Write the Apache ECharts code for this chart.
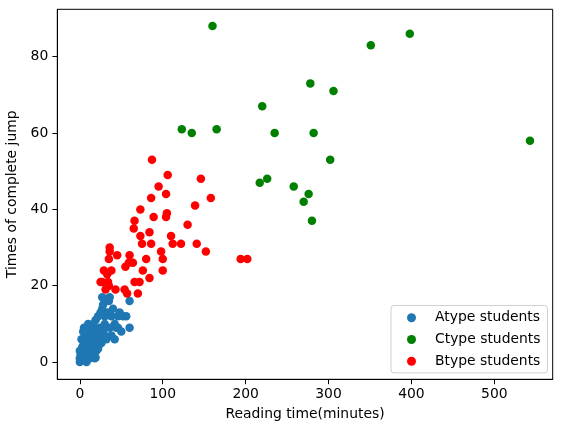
<!DOCTYPE html>
<html>
<head>
<meta charset="utf-8">
<script src="https://cdn.jsdelivr.net/npm/echarts@6/dist/echarts.min.js"></script>
<style>html,body{margin:0;padding:0;background:#fff;}#c{width:562px;height:432px;}</style>
</head>
<body>
<div id="c"></div>
<script>
const seriesNames = ['Atype students', 'Ctype students', 'Btype students'];
const xTicks = [0, 100, 200, 300, 400, 500];
const yTicks = [0, 20, 40, 60, 80];

const atype = [
  [0,0],[0,1],[1,2],[2,3],[3,4],[0,3],[5,5],[4,2],[6,1],[8,0],[10,1],[12,1],[15,2],[18,1],
  [20,3],[22,4],[6,6],[8,7],[10,5],[12,6],[14,4],[16,5],[18,6],[5,9],[8,9],[10,10],[13,9],
  [15,8],[16,10],[19,11],[22,12],[24,9],[26,7],[28,8],[30,7],[32,6],[20,8],[18,9],[25,13],
  [27,14],[28,15],[30,12],[35,16],[27,17],[36,17],[34,13],[38,12],[40,14],[42,10],[44,9],
  [46,12],[48,13],[52,12],[56,12],[60,16],[60,9],[46,9],[42,6],[50,8],[36,9],[24,5],[12,3],
  [2,6],[9,4],[4,8],[38,7],[30,10],[22,3.5],[14,3.6],[19,1.2],[26,5],[17,7]
];
const ctype = [
  [160,88],[351,83],[398,86],[278,73],[306,71],[220,67],[123,61],[135,60],[165,61],[235,60],
  [282,60],[543,58],[302,53],[217,47],[226,48],[258,46],[276,44],[270,42],[280,37]
];
const btype = [
  [87,53],[106,49],[146,48],[95,46],[104,44],[86,43],[158,43],[139,41],[73,40],[105,39],
  [104,38],[89,38],[66,37],[65,35],[130,36],[84,34],[73,33],[110,33],[75,31],[86,31],
  [112,31],[122,31],[141,31],[152,29],[98,29],[36,30],[36,29],[45,28],[60,28],[100,27],
  [80,27],[35,27],[64,26],[55,25],[76,24],[100,24],[29,24],[38,24],[84,22],[27,21],
  [66,21],[72,21],[43,19],[194,27],[202,27],[33,23],[25,21],[34,21],[57,18],[70,18],
  [35,20],[54,19],[31,19],[59,26]
];

const colors = ['#1f77b4', '#008000', '#ff0000'];
const dataSets = [atype, ctype, btype];
const font = 'DejaVu Sans';
const fs = 13.9;

const chart = echarts.init(document.getElementById('c'), null, {renderer: 'canvas'});
chart.setOption({
  animation: false,
  backgroundColor: '#fff',
  grid: {left: 57.3, right: 9.3, top: 9.3, bottom: 52.7, containLabel: false, outerBoundsMode: 'none',
         show: true, borderColor: '#000', borderWidth: 1, backgroundColor: 'transparent'},
  xAxis: {
    type: 'value', min: -27.2, max: 570.4,
    name: 'Reading time(minutes)', nameLocation: 'middle', nameGap: 28,
    nameTextStyle: {fontFamily: font, fontSize: fs, color: '#000'},
    splitLine: {show: false},
    axisLine: {show: true, onZero: false, lineStyle: {color: '#000', width: 1}},
    axisTick: {show: true, inside: false, length: 4.9, lineStyle: {color: '#000'}, customValues: xTicks},
    axisLabel: {fontFamily: font, fontSize: fs, color: '#000', margin: 8.5, customValues: xTicks}
  },
  yAxis: {
    type: 'value', min: -4.5, max: 92.4,
    name: 'Times of complete jump', nameLocation: 'middle', nameGap: 34.6,
    nameTextStyle: {fontFamily: font, fontSize: fs, color: '#000'},
    splitLine: {show: false},
    axisLine: {show: true, onZero: false, lineStyle: {color: '#000', width: 1}},
    axisTick: {show: true, inside: false, length: 4.9, lineStyle: {color: '#000'}, customValues: yTicks},
    axisLabel: {fontFamily: font, fontSize: fs, color: '#000', margin: 9, customValues: yTicks}
  },
  legend: {
    orient: 'vertical', left: 391, top: 305.5,
    padding: [4.3, 7, 3.7, 16], itemGap: 5.7, itemWidth: 9, itemHeight: 9,
    icon: 'circle',
    backgroundColor: '#fff', borderColor: '#d0d0d0', borderWidth: 1, borderRadius: 3,
    textStyle: {fontFamily: font, fontSize: fs, color: '#000', lineHeight: 16, padding: [0, 0, 0, 14]},
    data: seriesNames
  },
  series: seriesNames.map((n, i) => ({
    name: n, type: 'scatter', data: dataSets[i], symbolSize: 8.5,
    itemStyle: {color: colors[i], opacity: 1}
  }))
});
</script>
</body>
</html>
